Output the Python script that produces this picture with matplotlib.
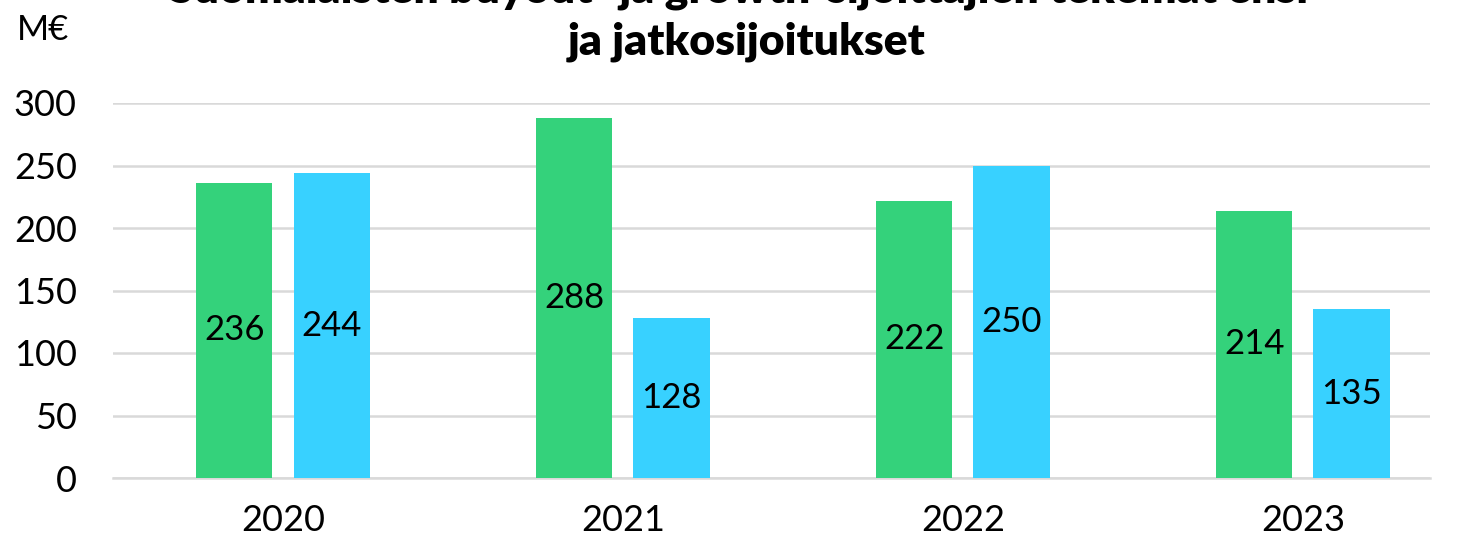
import matplotlib
matplotlib.use("Agg")
import matplotlib.pyplot as plt
import numpy as np

years = ["2020", "2021", "2022", "2023"]
ensi = [236, 288, 222, 214]
jatko = [244, 128, 250, 135]
yticks = [0, 50, 100, 150, 200, 250, 300]

plt.rcParams['font.family'] = ['Lato', 'DejaVu Sans']

fig = plt.figure(figsize=(14.58, 5.37), dpi=100)
ax = fig.add_axes([113/1458, 59/537, (1430-113)/1458, 375/537])

x = np.arange(len(years))
w = 0.224
off = 0.143
green = "#34D27B"
blue = "#38D1FF"
b1 = ax.bar(x - off, ensi, w, color=green, zorder=3)
b2 = ax.bar(x + off, jatko, w, color=blue, zorder=3)
for bars, vals in ((b1, ensi), (b2, jatko)):
    for r, v in zip(bars, vals):
        ax.text(r.get_x() + r.get_width()/2, v/2, str(v), ha="center", va="center",
                fontsize=25, color="black", zorder=4)

ax.set_xlim(-0.5, 3.374)
ax.set_ylim(0, 300)
ax.set_yticks(yticks)
ax.set_xticks(x)
ax.set_xticklabels(years)
ax.tick_params(axis="both", length=0, labelsize=26, labelcolor="black")
ax.tick_params(axis="y", pad=26)
ax.tick_params(axis="x", pad=19)
ax.yaxis.grid(True, color="#d9d9d9", linewidth=1.8, zorder=0)
for s in ["top", "right", "left"]:
    ax.spines[s].set_visible(False)
ax.spines["bottom"].set_color("#d9d9d9")
ax.spines["bottom"].set_linewidth(1.8)
ax.set_axisbelow(True)

fig.text(17/1458, 1 - 30/537, "M€", fontsize=25, va="center", ha="left")
fig.text(747/1458, 1 - 42/537, "ja jatkosijoitukset",
         fontsize=32, fontweight="heavy", ha="center", va="center")
fig.text(747/1458, 1 - 42/537 + 52/537, "Suomalaisten buyout- ja growth-sijoittajien tekemät ensi-",
         fontsize=32, fontweight="heavy", ha="center", va="center")

fig.savefig("out.png", dpi=100)
